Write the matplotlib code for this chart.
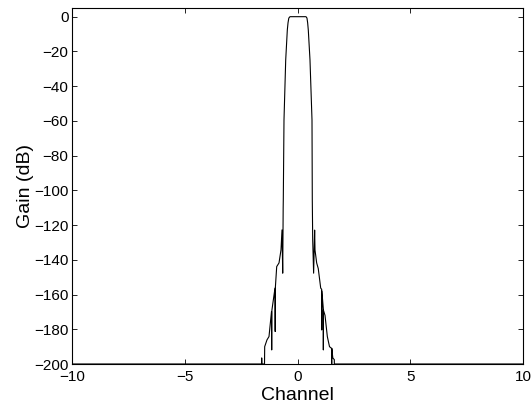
import matplotlib
matplotlib.use("Agg")
import matplotlib.pyplot as plt

plt.rcParams['font.family'] = ['Liberation Sans', 'DejaVu Sans']

# Channel response (x in channels, gain in dB)
channel = [-10, -1.596, -1.588, -1.575, -1.463, -1.455, -1.353, -1.264, -1.153, -1.144,
           -1.135, -0.998, -0.989, -0.980, -0.922, -0.82, -0.732, -0.687, -0.656, -0.635,
           -0.630, -0.599, -0.523, -0.452, -0.42, -0.385, -0.333,
           0.377, 0.42, 0.45, 0.479, 0.554, 0.643, 0.656, 0.674, 0.715, 0.76, 0.776,
           0.85, 0.92, 1.029, 1.073, 1.073, 1.08, 1.144, 1.146, 1.15, 1.22,
           1.323, 1.419, 1.51, 1.517, 1.52, 1.566, 1.632, 1.634, 10]
gain_db = [-200, -200, -196.5, -200, -200, -190.0, -186.1, -184.2, -169.8, -191.9,
           -169.0, -156.3, -181.3, -155.6, -143.9, -141.8, -134.3, -122.8, -147.7, -110.0,
           -105.5, -59.5, -24.9, -7.7, -3.5, -0.8, 0.0,
           0.0, -0.8, -3.5, -7.7, -24.9, -59.5, -105.5, -128.5, -147.7, -122.9, -134.3,
           -141.8, -145.0, -156.3, -157.0, -180.4, -158.0, -168.0, -191.9, -169.0, -172.0,
           -184.2, -190.0, -191.0, -200, -191.0, -196.5, -197.5, -200, -200]

xticks = [-10, -5, 0, 5, 10]
yticks = [0, -20, -40, -60, -80, -100, -120, -140, -160, -180, -200]

fig = plt.figure(figsize=(5.31, 4.12), dpi=100)
ax = fig.add_axes([72/531, 1-364/412, (523-72)/531, (364-8)/412])
ax.plot(channel, gain_db, color='black', linewidth=0.8)
ax.set_xlim(-10, 10)
ax.set_ylim(-200, 5)
ax.set_xticks(xticks)
ax.set_yticks(yticks)
ax.tick_params(direction='in', length=3.3, width=0.6, top=True, right=True, labelsize=11)
ax.tick_params(axis='x', pad=4.5)
ax.tick_params(axis='y', pad=2.5)
for s in ax.spines.values():
    s.set_linewidth(0.8)
ax.set_xlabel('Channel', fontsize=14, labelpad=2)
ax.set_ylabel('Gain (dB)', fontsize=14, labelpad=0)
fig.savefig('out.png', dpi=100)
